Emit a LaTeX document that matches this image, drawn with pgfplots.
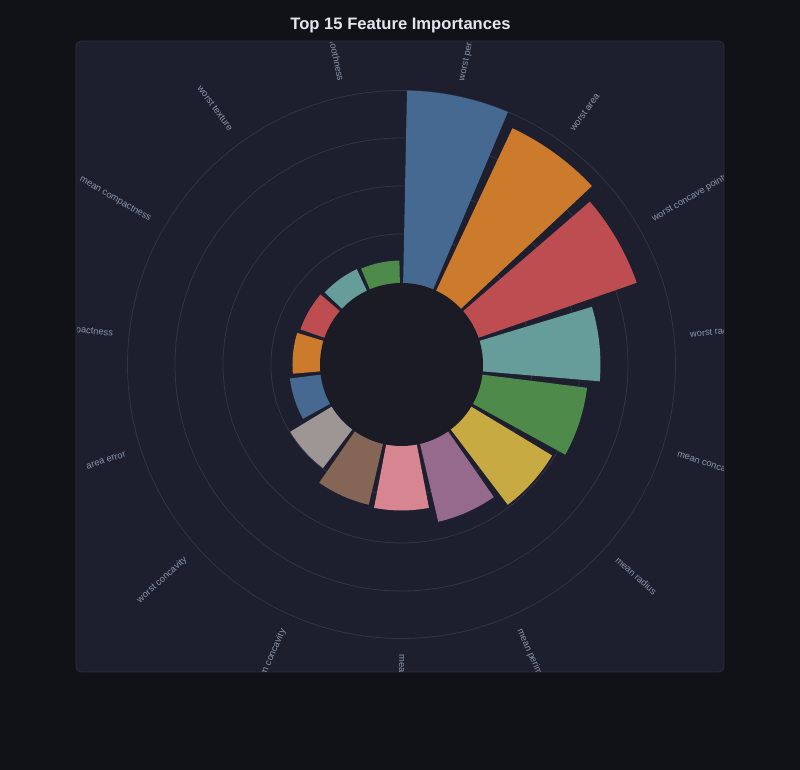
\documentclass[border=0pt]{standalone}
\usepackage{pgfplots}
\pgfplotsset{compat=1.18}
\usepgfplotslibrary{polar}
\usepackage{pgfplotstable}
\usepackage{fontspec}
\setmainfont{Liberation Sans}

\definecolor{bgouter}{RGB}{17,18,23}
\definecolor{panel}{RGB}{30,31,46}
\definecolor{holecol}{RGB}{27,27,38}
\definecolor{gridcol}{RGB}{50,52,68}
\definecolor{labelcol}{RGB}{140,150,172}
\definecolor{titlecol}{RGB}{228,230,238}
\definecolor{panelborder}{RGB}{44,46,60}
\definecolor{tabblue}{HTML}{4E79A7}
\definecolor{taborange}{HTML}{F28E2B}
\definecolor{tabred}{HTML}{E15759}
\definecolor{tabteal}{HTML}{76B7B2}
\definecolor{tabgreen}{HTML}{59A14F}
\definecolor{tabyellow}{HTML}{EDC948}
\definecolor{tabpurple}{HTML}{B07AA1}
\definecolor{tabpink}{HTML}{FF9DA7}
\definecolor{tabbrown}{HTML}{9C755F}
\definecolor{tabgrey}{HTML}{BAB0AC}
\colorlet{bar0}{tabblue!82!panel}
\colorlet{bar1}{taborange!82!panel}
\colorlet{bar2}{tabred!82!panel}
\colorlet{bar3}{tabteal!82!panel}
\colorlet{bar4}{tabgreen!82!panel}
\colorlet{bar5}{tabyellow!82!panel}
\colorlet{bar6}{tabpurple!82!panel}
\colorlet{bar7}{tabpink!82!panel}
\colorlet{bar8}{tabbrown!82!panel}
\colorlet{bar9}{tabgrey!82!panel}
\colorlet{bar10}{tabblue!82!panel}
\colorlet{bar11}{taborange!82!panel}
\colorlet{bar12}{tabred!82!panel}
\colorlet{bar13}{tabteal!82!panel}
\colorlet{bar14}{tabgreen!82!panel}

% feature importances (clockwise from top)
\pgfplotstableread[col sep=comma]{
idx,name,value
0,worst perimeter,0.2001
1,worst area,0.1866
2,worst concave points,0.1741
3,worst radius,0.1221
4,mean concave points,0.1097
5,mean radius,0.0982
6,mean perimeter,0.0832
7,mean area,0.0670
8,mean concavity,0.0650
9,worst concavity,0.0504
10,area error,0.0322
11,worst compactness,0.0286
12,mean compactness,0.0265
13,worst texture,0.0247
14,worst smoothness,0.0234
}\feat

% wedge outline: angular offsets (deg) and radius flag
\pgfplotstableread{
t k
0 0
-10.85 1
-9.3 1
-7.75 1
-6.2 1
-4.65 1
-3.1 1
-1.55 1
0 1
1.55 1
3.1 1
4.65 1
6.2 1
7.75 1
9.3 1
10.85 1
}\wedge

\begin{document}
\begin{tikzpicture}[x=1pt,y=1pt]
\fill[bgouter] (0,0) rectangle (800,770);
\fill[panel, rounded corners=6pt] (76,98) rectangle (724,729);
\draw[panelborder, line width=0.8pt, rounded corners=6pt] (76,98) rectangle (724,729);
\node[anchor=base, font=\fontsize{16.6}{19}\selectfont\bfseries, text=titlecol] at (400.5,740) {Top 15 Feature Importances};
\begin{scope}
\clip[rounded corners=6pt] (76.5,98.5) rectangle (723.5,728.5);
\begin{polaraxis}[
  at={(401.5pt,405.5pt)}, anchor=center,
  scale only axis, width=548pt, height=548pt,
  ymin=0, ymax=274,
  xtick=\empty, xticklabels={},
  ytick={130.5,178.5,226.5}, yticklabels={},
  major tick length=0pt,
  xmajorgrids=false, ymajorgrids=true,
  grid style={gridcol, line width=0.8pt},
  x axis line style={gridcol, line width=0.8pt},
  y axis line style={draw=none},
  clip=false,
]
\pgfplotsinvokeforeach{0,...,14}{
  \pgfplotstablegetelem{#1}{value}\of\feat
  \pgfmathsetmacro\rad{81.5+962*\pgfplotsretval}
  \pgfmathsetmacro\ang{78-24*#1}
  \edef\doplot{\noexpand\addplot[fill=bar#1,draw=none] table[x expr=\ang+\noexpand\thisrow{t}, y expr=\noexpand\thisrow{k}*\rad]{\noexpand\wedge} -- cycle;}
  \doplot
}
\fill[holecol] (axis cs:0,0) circle[radius=81.5pt];
\pgfplotsinvokeforeach{0,...,14}{
  \pgfplotstablegetelem{#1}{name}\of\feat
  \let\lab\pgfplotsretval
  \pgfmathsetmacro\ang{78-24*#1}
  \ifnum#1<8
    \pgfmathsetmacro\rot{\ang}\def\anc{west}
  \else
    \pgfmathsetmacro\rot{\ang+180}\def\anc{east}
  \fi
  \edef\donode{\noexpand\node[inner sep=0pt, text=labelcol, font=\noexpand\fontsize{9.3}{11}\noexpand\selectfont, rotate=\rot, anchor=\anc] at (axis cs:\ang,290) {\lab};}
  \donode
}
\end{polaraxis}
\end{scope}
\pgfresetboundingbox
\path[use as bounding box] (0,0) rectangle (800,770);
\end{tikzpicture}
\end{document}
